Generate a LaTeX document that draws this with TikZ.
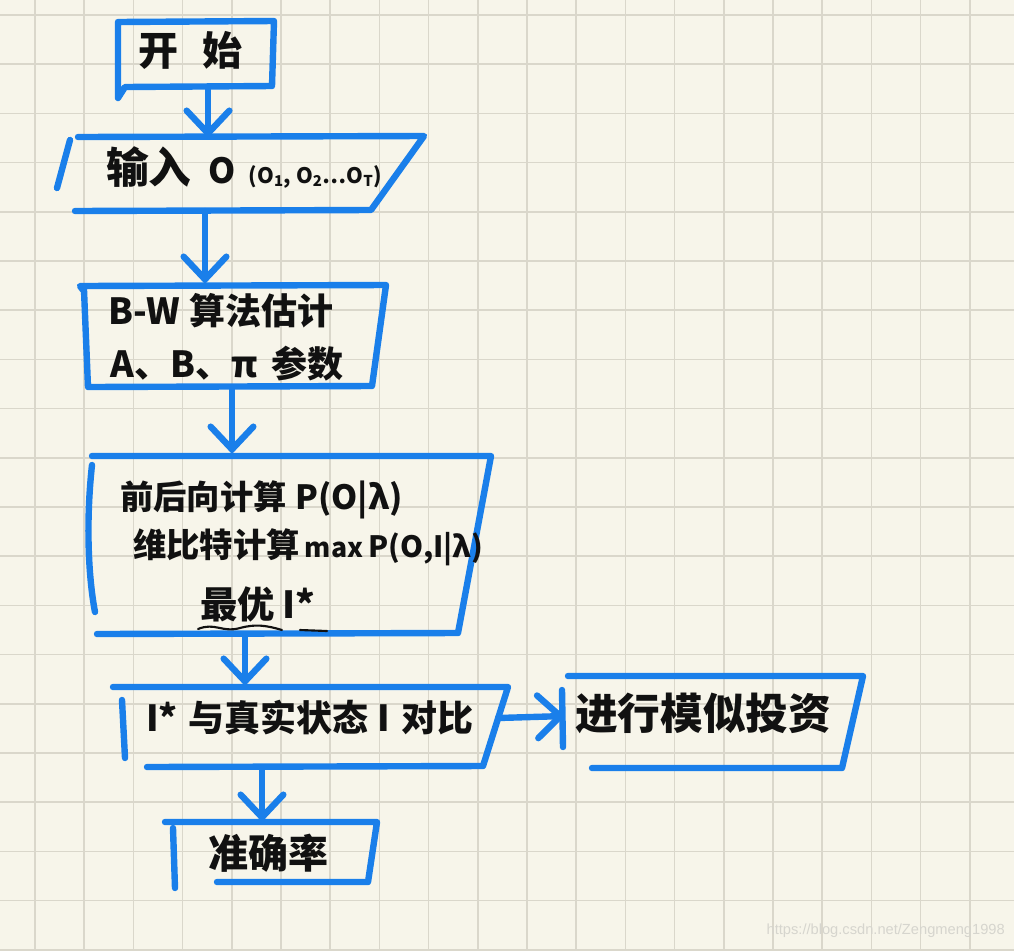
\documentclass[tikz,border=0pt]{standalone}
\usepackage{fontspec}
\usetikzlibrary{arrows.meta}
\newfontfamily\hw{Noto Sans CJK SC}
\newfontfamily\wm{Liberation Sans}
\definecolor{paper}{HTML}{F7F5EA}
\definecolor{gridc}{HTML}{DAD7CB}
\definecolor{inkblue}{HTML}{1A7FEA}
\definecolor{inkblack}{HTML}{111111}
\definecolor{wmc}{HTML}{D6D5CE}
\tikzset{
  ink/.style={draw=inkblue, line width=4.8pt, line cap=round, line join=round},
  arr/.style={ink, -{Straight Barb[length=17pt,width=32pt,line cap=round]}},
  gridline/.style={draw=gridc, line width=1.3pt},
  txt/.style={font=\hw\bfseries, text=inkblack, inner sep=0pt, anchor=west},
}
\newcommand{\fs}[1]{\fontsize{#1}{#1}\selectfont}
\begin{document}
\begin{tikzpicture}[x=0.75pt,y=-0.75pt]
\useasboundingbox (0,0) rectangle (1014,951);
\fill[paper] (0,0) rectangle (1014,951);
\foreach \i in {0,...,20} \draw[gridline] ({35+49.2*\i},0) -- ({35+49.2*\i},951);
\foreach \j in {0,...,19} \draw[gridline] (0,{15+49.2*\j}) -- (1014,{15+49.2*\j});

% box 1: start
\draw[ink] (125,87) -- (118,98) -- (118,22) -- (274,21) -- (272,86) -- cycle;
\node[txt, anchor=center] (start) at (190,50) {\fs{30}开\hspace{0.6em}始};
\coordinate (s1) at (208,88);

% box 2: input
\draw[ink] (70,140) -- (57,188);
\draw[ink] (78,137) -- (424,136) -- (371,210) -- (75,211);
\node[txt] (input) at (106,167) {\fs{32}输入\hspace{0.4em}{\fs{26}O}\hspace{0.3em}{\fs{16}(O\textsubscript{1}, O\textsubscript{2}…O\textsubscript{T})}};
\coordinate (e1) at (208,138);
\coordinate (s2) at (205,211);

% box 3: B-W
\draw[ink] (83,290) -- (80,286) -- (386,285) -- (372,386) -- (88,387) -- (84,290);
\node[txt] (bw1) at (108,311) {\fs{27}B-W\hspace{0.25em}算法估计};
\node[txt] (bw2) at (110,364) {\fs{27}A、B、π\hspace{0.4em}参数};
\coordinate (e2) at (205,284);
\coordinate (s3) at (232,388);

% box 4: compute
\draw[ink] (92,465) .. controls (86,520) and (88,575) .. (95,612);
\draw[ink] (92,456) -- (491,456) -- (458,633) -- (97,634);
\node[txt] (c1) at (120,500) {\fs{25}前后向计算\hspace{0.25em}P(O|λ)};
\node[txt] (c2) at (133,547) {\fs{25}维比特计算\hspace{0.15em}{\fs{20}max}\hspace{0.15em}{\fs{22}P(O,I|λ)}};
\node[txt] (c3) at (200,604) {\fs{28}最优\hspace{0.2em}I*};
\draw[inkblack, line width=1.6pt, line cap=round] (198,629) .. controls (215,622) and (222,633) .. (240,628) .. controls (255,624) and (265,625) .. (282,630);
\draw[inkblack, line width=1.6pt, line cap=round] (300,630) -- (327,631);
\coordinate (e3) at (232,454);
\coordinate (s4) at (245,636);

% box 5: compare
\draw[ink] (122,700) -- (125,758);
\draw[ink] (113,687) -- (508,687) -- (483,766) -- (147,767);
\node[txt] (cmp) at (146,718) {\fs{27}I*\hspace{0.3em}与真实状态\hspace{0.25em}I\hspace{0.3em}对比};
\coordinate (e4) at (245,686);
\coordinate (s5) at (498,718);
\coordinate (s6) at (262,768);

% box 6: invest
\draw[ink] (562,690) -- (563,747);
\draw[ink] (568,676) -- (863,676) -- (842,768) -- (592,768);
\node[txt] (inv) at (575,713) {\fs{32}进行模似投资};
\coordinate (e5) at (565,716);

% box 7: accuracy
\draw[ink] (173,828) -- (175,888);
\draw[ink] (165,822) -- (377,822) -- (368,882) -- (217,882);
\node[txt] (acc) at (208,853) {\fs{30}准确率};
\coordinate (e6) at (262,822);

% arrows
\draw[arr] (s1) -- (e1);
\draw[arr] (s2) -- (e2);
\draw[arr] (s3) -- (e3);
\draw[arr] (s4) -- (e4);
\draw[arr] (s5) -- (e5);
\draw[arr] (s6) -- (e6);

% watermark
\node[font=\wm\fontsize{11}{11}\selectfont, text=wmc, anchor=east, inner sep=0pt] (wmk) at (1005,931) {https://blog.csdn.net/Zengmeng1998};
\end{tikzpicture}
\end{document}
